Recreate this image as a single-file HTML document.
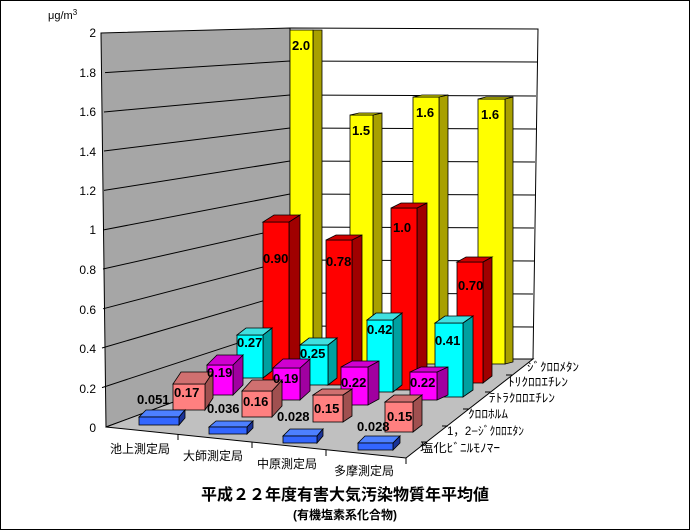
<!DOCTYPE html>
<html><head><meta charset="utf-8"><style>
html,body{margin:0;padding:0;background:#fff}
svg{display:block}
text{font-family:"Liberation Sans","Noto Sans CJK JP",sans-serif}
.v{font-size:13px;font-weight:bold;fill:#000}
.ax{font-size:12px;fill:#000}
.st{font-size:12px;fill:#000}
.sr{font-size:12px;fill:#000}
</style></head><body>
<svg width="690" height="530" viewBox="0 0 690 530" xmlns="http://www.w3.org/2000/svg">
<rect x="0.5" y="0.5" width="689" height="529" fill="#fff" stroke="#000"/>
<polygon points="101,33 290,28 290,359 106,427" fill="#a6a6a6" stroke="#000" stroke-width="1"/>
<polygon points="290,28 538,29 533,359 290,359" fill="#fff" stroke="#000" stroke-width="1"/>
<g stroke="#000" stroke-width="1" fill="none">
<polyline points="102,387.6 290,326 533,327"/>
<polyline points="102,348 290,293 533,294"/>
<polyline points="103,308.8 290,260 534,261"/>
<polyline points="103,269 290,227 534,228"/>
<polyline points="103,230 290,194 535,195"/>
<polyline points="104,190.4 290,161 535,162"/>
<polyline points="104,151 290,128 536,129"/>
<polyline points="104,112 290,95 536,96"/>
<polyline points="105,72.6 290,61 537,62"/>
</g>
<polygon points="106,427 406,458 533,359 290,359" fill="#c0c0c0" stroke="#000"/>
<g stroke="#000">
<line x1="178" y1="434" x2="178" y2="440"/>
<line x1="252" y1="442" x2="252" y2="448"/>
<line x1="326" y1="450" x2="326" y2="456"/>
<line x1="406" y1="458" x2="406" y2="464"/>
<line x1="427" y1="442" x2="421" y2="442"/>
<line x1="448" y1="426" x2="442" y2="426"/>
<line x1="469" y1="409" x2="463" y2="409"/>
<line x1="491" y1="392" x2="485" y2="392"/>
<line x1="512" y1="375" x2="506" y2="375"/>
<line x1="533" y1="359" x2="527" y2="359"/>
</g>
<g stroke="#000" stroke-width="0.8">
<g>
<polygon points="313,30 322,30 322,362 313,362" fill="#a8a000"/><rect x="290" y="30" width="23" height="332" fill="#ffff00"/>
<polygon points="373,115 382,113 382,362 373,364" fill="#a8a000"/><rect x="350" y="115" width="23" height="249" fill="#ffff00"/><polygon points="350,115 373,115 382,113 359,113" fill="#e0e000"/>
<polygon points="439,97 448,95 448,362 439,364" fill="#a8a000"/><rect x="413" y="97" width="26" height="267" fill="#ffff00"/><polygon points="413,97 439,97 448,95 422,95" fill="#e0e000"/>
<polygon points="505,99 513,97 513,362 505,364" fill="#a8a000"/><rect x="478" y="99" width="27" height="265" fill="#ffff00"/><polygon points="478,99 505,99 513,97 486,97" fill="#e0e000"/>
</g>
<g>
<polygon points="289,222 300,215 300,373 289,380" fill="#a00000"/><rect x="263" y="222" width="26" height="158" fill="#ff0000"/><polygon points="263,222 289,222 300,215 274,215" fill="#d00000"/>
<polygon points="352,240 362,235 362,378 352,385" fill="#a00000"/><rect x="326" y="240" width="26" height="145" fill="#ff0000"/><polygon points="326,240 352,240 362,235 336,235" fill="#d00000"/>
<polygon points="417,208 427,203 427,383 417,390" fill="#a00000"/><rect x="391" y="208" width="26" height="182" fill="#ff0000"/><polygon points="391,208 417,208 427,203 401,203" fill="#d00000"/>
<polygon points="483,262 492,257 492,376 483,383" fill="#a00000"/><rect x="457" y="262" width="26" height="121" fill="#ff0000"/><polygon points="457,262 483,262 492,257 466,257" fill="#d00000"/>
</g>
<g>
<polygon points="263,335 272,328 272,371 263,378" fill="#00a0a0"/><rect x="237" y="335" width="26" height="43" fill="#00ffff"/><polygon points="237,335 263,335 272,328 246,328" fill="#40e0e0"/>
<polygon points="328,345 337,338 337,378 328,385" fill="#00a0a0"/><rect x="300" y="345" width="28" height="40" fill="#00ffff"/><polygon points="300,345 328,345 337,338 309,338" fill="#40e0e0"/>
<polygon points="393,320 402,313 402,385 393,392" fill="#00a0a0"/><rect x="367" y="320" width="26" height="72" fill="#00ffff"/><polygon points="367,320 393,320 402,313 376,313" fill="#40e0e0"/>
<polygon points="463,323 473,316 473,390 463,397" fill="#00a0a0"/><rect x="435" y="323" width="28" height="74" fill="#00ffff"/><polygon points="435,323 463,323 473,316 445,316" fill="#40e0e0"/>
</g>
<g>
<polygon points="233,365 243,355 243,385 233,395" fill="#a000a0"/><rect x="207" y="365" width="26" height="30" fill="#ff00ff"/><polygon points="207,365 233,365 243,355 217,355" fill="#d000d0"/>
<polygon points="300,368 310,359 310,391 300,400" fill="#a000a0"/><rect x="273" y="368" width="27" height="32" fill="#ff00ff"/><polygon points="273,368 300,368 310,359 283,359" fill="#d000d0"/>
<polygon points="368,367 379,361 379,399 368,405" fill="#a000a0"/><rect x="341" y="367" width="27" height="38" fill="#ff00ff"/><polygon points="341,367 368,367 379,361 352,361" fill="#d000d0"/>
<polygon points="437,372 448,367 448,395 437,400" fill="#a000a0"/><rect x="410" y="372" width="27" height="28" fill="#ff00ff"/><polygon points="410,372 437,372 448,367 421,367" fill="#d000d0"/>
</g>
<g>
<polygon points="205,384 213,372 213,398 205,410" fill="#a05050"/><rect x="173" y="384" width="32" height="26" fill="#ff8080"/><polygon points="173,384 205,384 213,372 181,372" fill="#d07070"/>
<polygon points="272,391 282,380 282,406 272,417" fill="#a05050"/><rect x="242" y="391" width="30" height="26" fill="#ff8080"/><polygon points="242,391 272,391 282,380 252,380" fill="#d07070"/>
<polygon points="343,395 352,389 352,416 343,422" fill="#a05050"/><rect x="313" y="395" width="30" height="27" fill="#ff8080"/><polygon points="313,395 343,395 352,389 322,389" fill="#d07070"/>
<polygon points="413,402 422,395 422,425 413,432" fill="#a05050"/><rect x="385" y="402" width="28" height="30" fill="#ff8080"/><polygon points="385,402 413,402 422,395 394,395" fill="#d07070"/>
</g>
<g>
<polygon points="139,417 179,417 185,410 146,410" fill="#4d80ff"/><polygon points="179,417 185,410 185,418 179,425" fill="#1a3399"/><rect x="139" y="417" width="40" height="8" fill="#3366ff"/>
<polygon points="209,427 247,427 253,421 216,421" fill="#4d80ff"/><polygon points="247,427 253,421 253,428 247,434" fill="#1a3399"/><rect x="209" y="427" width="38" height="7" fill="#3366ff"/>
<polygon points="283,436 317,436 323,429 290,429" fill="#4d80ff"/><polygon points="317,436 323,429 323,436 317,443" fill="#1a3399"/><rect x="283" y="436" width="34" height="7" fill="#3366ff"/>
<polygon points="358,443 393,443 400,436 365,436" fill="#4d80ff"/><polygon points="393,443 400,436 400,443 393,450" fill="#1a3399"/><rect x="358" y="443" width="35" height="7" fill="#3366ff"/>
</g>
</g>
<g class="v">
<text x="292" y="50">2.0</text><text x="352" y="135">1.5</text><text x="416" y="117">1.6</text><text x="481" y="119">1.6</text>
<text x="263" y="263">0.90</text><text x="326" y="266">0.78</text><text x="393" y="232">1.0</text><text x="458" y="290">0.70</text>
<text x="237" y="347">0.27</text><text x="300" y="358">0.25</text><text x="367" y="334">0.42</text><text x="435" y="345">0.41</text>
<text x="207" y="377">0.19</text><text x="273" y="383">0.19</text><text x="341" y="387">0.22</text><text x="410" y="387">0.22</text>
<text x="174" y="397">0.17</text><text x="243" y="406">0.16</text><text x="314" y="413">0.15</text><text x="387" y="421">0.15</text>
<text x="137" y="404">0.051</text><text x="207" y="413">0.036</text><text x="277" y="421">0.028</text><text x="357" y="431">0.028</text>
</g>
<g class="ax" text-anchor="end">
<text x="96" y="37">2</text><text x="96" y="77">1.8</text><text x="96" y="116">1.6</text><text x="96" y="156">1.4</text><text x="96" y="195">1.2</text>
<text x="96" y="234">1</text><text x="96" y="274">0.8</text><text x="96" y="314">0.6</text><text x="96" y="353">0.4</text><text x="96" y="393">0.2</text><text x="96" y="432">0</text>
</g>
<text x="48" y="19" style="font-size:11px">μg/m<tspan dy="-4" style="font-size:8px">3</tspan></text>
<g class="st">
<text x="110" y="453">池上測定局</text><text x="183" y="460">大師測定局</text><text x="257" y="468">中原測定局</text><text x="334" y="475">多摩測定局</text>
</g>
<g class="sr">
<text x="527" y="371" textLength="52" lengthAdjust="spacingAndGlyphs">ｼﾞｸﾛﾛﾒﾀﾝ</text>
<text x="508" y="386" textLength="60" lengthAdjust="spacingAndGlyphs">ﾄﾘｸﾛﾛｴﾁﾚﾝ</text>
<text x="489" y="402" textLength="66" lengthAdjust="spacingAndGlyphs">ﾃﾄﾗｸﾛﾛｴﾁﾚﾝ</text>
<text x="468" y="418" textLength="40" lengthAdjust="spacingAndGlyphs">ｸﾛﾛﾎﾙﾑ</text>
<text x="447" y="435" textLength="77" lengthAdjust="spacingAndGlyphs">1，2−ｼﾞｸﾛﾛｴﾀﾝ</text>
<text x="420" y="452" textLength="80" lengthAdjust="spacingAndGlyphs">塩化ﾋﾞﾆﾙﾓﾉﾏｰ</text>
</g>
<text x="345" y="500" text-anchor="middle" style="font-size:16px;font-weight:bold">平成２２年度有害大気汚染物質年平均値</text>
<text x="345" y="519" text-anchor="middle" style="font-size:12px;font-weight:bold">(有機塩素系化合物)</text>
</svg>
</body></html>
